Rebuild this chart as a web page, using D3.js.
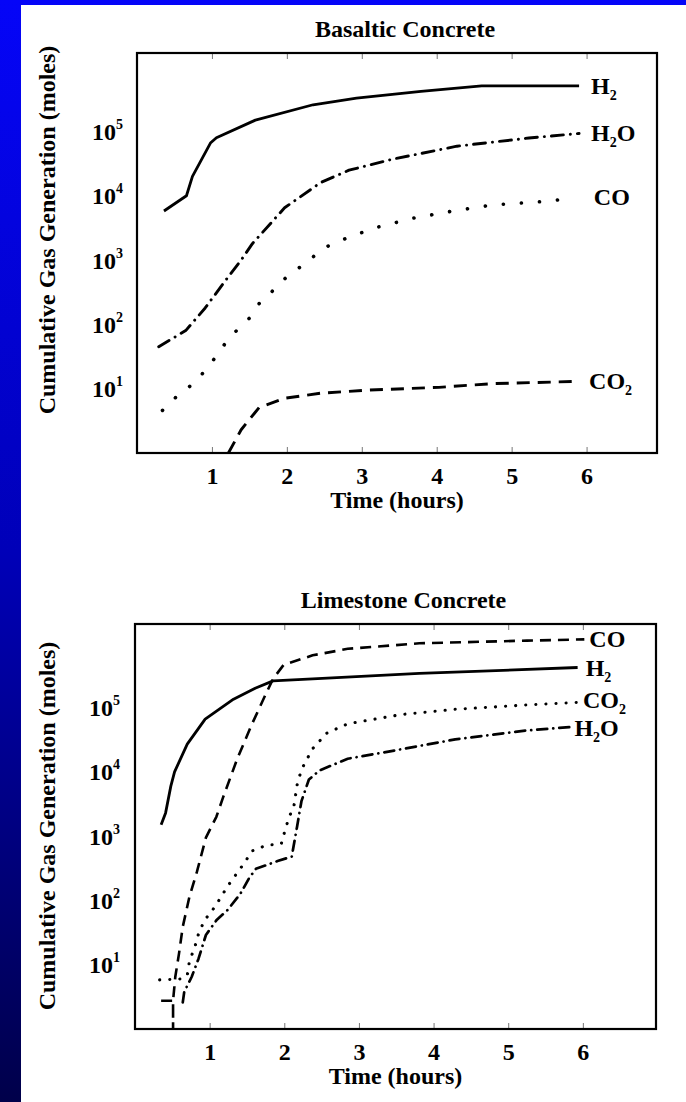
<!DOCTYPE html>
<html>
<head>
<meta charset="utf-8">
<script src="https://cdn.jsdelivr.net/npm/d3@7"></script>
<style>
  body { margin: 0; background: #fff; }
  svg { display: block; }
  text { font-family: "Liberation Serif", "Times New Roman", serif; font-weight: bold; fill: #000; }
</style>
</head>
<body>
<svg id="fig" width="686" height="1102"></svg>
<script>
// hours on the x axis, decades on the y axis
const hourTicks = [1, 2, 3, 4, 5, 6];
const decadeTicks = [1e1, 1e2, 1e3, 1e4, 1e5];

// Basaltic concrete: [hours, moles]
const basaltH2 = [[0.36, 5.8e3], [0.66, 1.0e4], [0.74, 2.0e4], [0.98, 6.6e4], [1.06, 8.0e4], [1.58, 1.5e5],
  [2.35, 2.6e5], [2.93, 3.3e5], [3.79, 4.2e5], [4.6, 5.1e5], [5.9, 5.1e5]];
const basaltH2O = [[0.29, 45], [0.65, 80], [0.91, 180], [1.18, 480], [1.39, 1.0e3], [1.54, 1.8e3], [1.97, 6.5e3],
  [2.45, 1.6e4], [2.83, 2.5e4], [3.41, 3.7e4], [4.27, 5.9e4], [5.23, 7.9e4], [5.9, 9.3e4]];
const basaltCO = [[0.34, 4.6], [0.52, 7.4], [0.71, 11], [0.89, 18], [1.04, 30], [1.18, 51], [1.34, 83], [1.53, 135],
  [1.65, 230], [1.84, 355], [2.03, 600], [2.26, 900], [2.47, 1.5e3], [2.71, 2.0e3], [2.93, 2.5e3], [3.19, 3.2e3],
  [3.69, 4.5e3], [4.22, 5.8e3], [4.75, 7.2e3], [5.54, 8.3e3], [5.83, 9.5e3]];
const basaltCO2 = [[1.22, 1.0], [1.39, 2.3], [1.63, 5.1], [1.97, 7.1], [2.45, 8.5], [3.07, 9.5], [4.03, 10.5],
  [4.75, 12], [5.9, 13]];

// Limestone concrete: [hours, moles]
const limeH2 = [[0.35, 1.5e3], [0.41, 2.3e3], [0.48, 6.0e3], [0.53, 1.0e4], [0.7, 2.7e4], [0.94, 6.6e4],
  [1.32, 1.35e5], [1.61, 2.0e5], [1.85, 2.6e5], [2.38, 2.8e5], [3.81, 3.4e5], [5.93, 4.2e5]];
const limeCO = [[0.35, 2.75], [0.51, 2.75], [0.51, 1], [0.51, 2.75], [0.54, 6.5], [0.59, 15], [0.64, 39],
  [0.73, 115], [0.83, 280], [0.95, 950], [1.09, 2.0e3], [1.18, 4.0e3], [1.37, 1.6e4], [1.56, 5.3e4],
  [1.75, 1.6e5], [1.85, 2.8e5], [1.99, 4.6e5], [2.38, 6.5e5], [2.85, 8.2e5], [3.81, 1.0e6], [5.25, 1.1e6],
  [6.02, 1.15e6]];
const limeCO2 = [[0.33, 5.8], [0.62, 6.0], [0.7, 6.8], [0.73, 11.5], [0.8, 18.6], [0.85, 30], [0.93, 49],
  [1.04, 71], [1.14, 107], [1.24, 166], [1.35, 250], [1.47, 390], [1.57, 590], [1.76, 720], [1.96, 760],
  [2.01, 1.23e3], [2.06, 1.9e3], [2.13, 3.0e3], [2.18, 7.2e3], [2.25, 1.2e4], [2.38, 2.3e4], [2.57, 4.0e4],
  [2.85, 5.6e4], [3.57, 7.8e4], [4.29, 9.4e4], [5.25, 1.1e5], [5.92, 1.2e5]];
const limeH2O = [[0.64, 2.6], [0.66, 3.8], [0.76, 6.5], [0.85, 12.3], [0.95, 29], [1.09, 49], [1.24, 71],
  [1.41, 126], [1.53, 224], [1.62, 310], [1.91, 410], [2.1, 480], [2.17, 1.38e3], [2.23, 3.5e3], [2.33, 7.6e3],
  [2.47, 1.05e4], [2.85, 1.6e4], [3.33, 2.0e4], [4.29, 3.2e4], [5.25, 4.4e4], [5.86, 5.0e4]];

const fontSize = 24;

const svg = d3.select('#fig');

// blue slide background behind the white figure
const grad = svg.append('defs').append('linearGradient')
  .attr('id', 'slide')
  .attr('x1', 0).attr('y1', 0).attr('x2', 0).attr('y2', 1);
grad.append('stop').attr('offset', 0).attr('stop-color', '#0505f8');
grad.append('stop').attr('offset', 0.5).attr('stop-color', '#0000b8');
grad.append('stop').attr('offset', 1).attr('stop-color', '#00004a');

svg.append('rect').attr('width', 686).attr('height', 1102).attr('fill', 'url(#slide)');
svg.append('rect').attr('x', 21).attr('y', 5).attr('width', 665).attr('height', 1097).attr('fill', '#fff');

// write "H2O" style formulas with subscript digits
function formula(text, label) {
  let low = false;
  label.split('').forEach((ch) => {
    const isDigit = /[0-9]/.test(ch);
    const t = text.append('tspan').text(ch);
    if (isDigit) {
      t.attr('font-size', 14);
      if (!low) { t.attr('dy', 6); low = true; }
    } else if (low) {
      t.attr('dy', -6);
      low = false;
    }
  });
}

function drawPanel(p) {
  const g = svg.append('g');
  const x = d3.scaleLinear().domain([0, p.xMax]).range([p.left, p.right]);
  const y = d3.scaleLog().domain([1, p.yMax]).range([p.bottom, p.top]);

  const clipId = `clip-${p.id}`;
  g.append('clipPath').attr('id', clipId)
    .append('rect')
    .attr('x', p.left).attr('y', p.top)
    .attr('width', p.right - p.left).attr('height', p.bottom - p.top);

  // small inward ticks on the bottom edge, with hour labels
  g.append('g')
    .attr('transform', `translate(0,${p.bottom})`)
    .call(d3.axisBottom(x).tickValues(hourTicks).tickFormat(d3.format('d'))
      .tickSizeInner(-6).tickSizeOuter(0).tickPadding(14))
    .call((a) => a.attr('font-family', null).attr('font-size', null))
    .call((a) => a.select('.domain').remove())
    .call((a) => a.selectAll('line').attr('stroke', '#777'))
    .call((a) => a.selectAll('text').attr('font-size', fontSize).attr('fill', '#000'));

  g.append('g')
    .attr('transform', `translate(0,${p.top})`)
    .call(d3.axisTop(x).tickValues(hourTicks).tickSizeInner(-6).tickSizeOuter(0).tickFormat(''))
    .call((a) => a.select('.domain').remove())
    .call((a) => a.selectAll('line').attr('stroke', '#777'));

  // decade labels 10^n
  g.append('g')
    .attr('transform', `translate(${p.left},0)`)
    .call(d3.axisLeft(y).tickValues(decadeTicks).tickSize(0).tickPadding(p.yPad).tickFormat(''))
    .call((a) => a.attr('font-family', null).attr('font-size', null))
    .call((a) => a.select('.domain').remove())
    .call((a) => a.selectAll('text').each(function addPower(d) {
      const t = d3.select(this).attr('font-size', fontSize).attr('fill', '#000').attr('dy', 8);
      t.append('tspan').text('10');
      t.append('tspan').text(Math.round(Math.log10(d))).attr('font-size', 14).attr('dy', -11);
    }));

  // plot frame
  g.append('rect')
    .attr('x', p.left).attr('y', p.top)
    .attr('width', p.right - p.left).attr('height', p.bottom - p.top)
    .attr('fill', 'none').attr('stroke', '#000').attr('stroke-width', 2.2);

  const line = d3.line().x((d) => x(d[0])).y((d) => y(d[1]));

  p.series.forEach((s) => {
    g.append('path')
      .datum(s.data)
      .attr('clip-path', `url(#${clipId})`)
      .attr('d', line)
      .attr('fill', 'none')
      .attr('stroke', '#000')
      .attr('stroke-width', s.width)
      .attr('stroke-linecap', s.cap)
      .attr('stroke-linejoin', 'round')
      .attr('stroke-dasharray', s.dash);

    const last = s.data[s.data.length - 1];
    const label = g.append('text')
      .attr('x', x(last[0]) + s.dx)
      .attr('y', y(last[1]) + 8 + s.dy)
      .attr('font-size', fontSize);
    formula(label, s.name);
  });

  g.append('text')
    .attr('x', (p.left + p.right) / 2 + 8)
    .attr('y', p.top - 16)
    .attr('text-anchor', 'middle')
    .attr('font-size', fontSize)
    .text(p.title);

  g.append('text')
    .attr('x', (p.left + p.right) / 2)
    .attr('y', p.bottom + 55)
    .attr('text-anchor', 'middle')
    .attr('font-size', fontSize)
    .text('Time (hours)');

  g.append('text')
    .attr('transform', `translate(55,${p.yTitleMid}) rotate(-90)`)
    .attr('text-anchor', 'middle')
    .attr('font-size', fontSize)
    .text('Cumulative Gas Generation (moles)');
}

const solid = { width: 2.8, cap: 'butt', dash: null };

drawPanel({
  id: 'basalt',
  title: 'Basaltic Concrete',
  left: 137, right: 657, top: 53, bottom: 453,
  xMax: 6.94, yMax: Math.pow(10, 6.22), yPad: 14, yTitleMid: 230,
  series: [
    { name: 'H2', data: basaltH2, ...solid, dx: 12, dy: 0 },
    { name: 'H2O', data: basaltH2O, width: 2.9, cap: 'round', dash: '12 7 0.1 7', dx: 12, dy: 0 },
    { name: 'CO', data: basaltCO, width: 3.6, cap: 'round', dash: '0.1 18', dx: 20, dy: 0 },
    { name: 'CO2', data: basaltCO2, width: 2.9, cap: 'butt', dash: '13 8', dx: 10, dy: 0 },
  ],
});

drawPanel({
  id: 'lime',
  title: 'Limestone Concrete',
  left: 135, right: 656, top: 624, bottom: 1029,
  xMax: 6.98, yMax: Math.pow(10, 6.3), yPad: 15, yTitleMid: 826,
  series: [
    { name: 'CO', data: limeCO, width: 2.6, cap: 'butt', dash: '11 7', dx: 5, dy: 0 },
    { name: 'H2', data: limeH2, ...solid, dx: 8, dy: 0 },
    { name: 'CO2', data: limeCO2, width: 3.1, cap: 'round', dash: '0.1 10', dx: 6, dy: -2 },
    { name: 'H2O', data: limeH2O, width: 2.7, cap: 'round', dash: '10 6 0.1 6', dx: 2, dy: 1 },
  ],
});
</script>
</body>
</html>
